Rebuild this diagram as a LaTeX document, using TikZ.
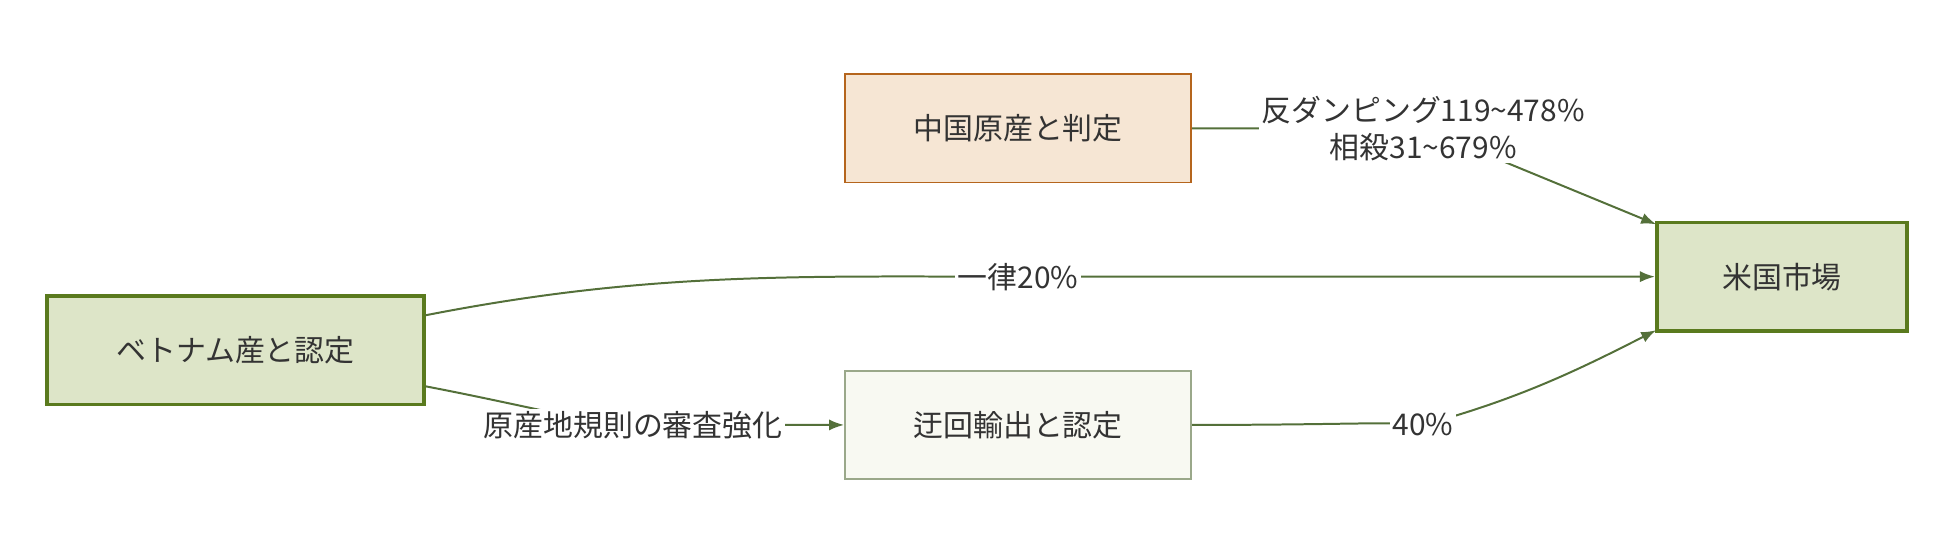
\documentclass[tikz,border=0pt]{standalone}
\usepackage{fontspec}
\setmainfont{Noto Sans CJK JP}
\usetikzlibrary{arrows.meta}
\definecolor{gfill}{HTML}{DDE5C8}
\definecolor{gline}{HTML}{5A7A1E}
\definecolor{cfill}{HTML}{F6E6D4}
\definecolor{cline}{HTML}{B5651D}
\definecolor{dfill}{HTML}{F8F9F2}
\definecolor{dline}{HTML}{9AA88A}
\definecolor{eline}{HTML}{54703A}
\definecolor{txt}{HTML}{333333}
\tikzset{
	box/.style = {draw, minimum height = 43.5pt, text = txt, font = \fontsize{12}{14}\selectfont},
	lab/.style = {fill = white, text = txt, inner sep = 1pt, align = center, font = \fontsize{12}{15}\selectfont},
	edge/.style = {draw = eline, line width = .8pt, -{Latex[length=6pt]}}
}
\begin{document}
\begin{tikzpicture}[x = .5pt, y = -.5pt]
	\useasboundingbox (0,0) rectangle (1560,445);
	\node [box, fill = gfill, draw = gline, line width = 1.5pt, minimum width = 151pt] (viet) at (189,281) {ベトナム産と認定};
	\node [box, fill = cfill, draw = cline, line width = .7pt, minimum width = 139pt] (china) at (817,103) {中国原産と判定};
	\node [box, fill = dfill, draw = dline, line width = .7pt, minimum width = 139pt] (detour) at (817,341) {迂回輸出と認定};
	\node [box, fill = gfill, draw = gline, line width = 1.5pt, minimum width = 100.5pt] (us) at (1430,222) {米国市場};
	\coordinate (usnw) at (1329,180);
	\coordinate (ussw) at (1329,265);
	\draw [edge] (china.east) -- (1142,103) node [lab] {反ダンピング119\textasciitilde478\%\\相殺31\textasciitilde679\%} -- (usnw);
	\draw [edge] (viet.east |- 0,253) .. controls (520,218) and (640,222) .. (817,222) node [lab] {一律20\%} -- (us.west);
	\draw [edge] (viet.east |- 0,310) .. controls (420,325) and (480,341) .. (508,341) node [lab] {原産地規則の審査強化} -- (detour.west);
	\draw [edge] (detour.east) .. controls (1080,341) and (1120,338) .. (1142,341) node [lab] {40\%} .. controls (1220,320) and (1270,295) .. (ussw);
\end{tikzpicture}
\end{document}
